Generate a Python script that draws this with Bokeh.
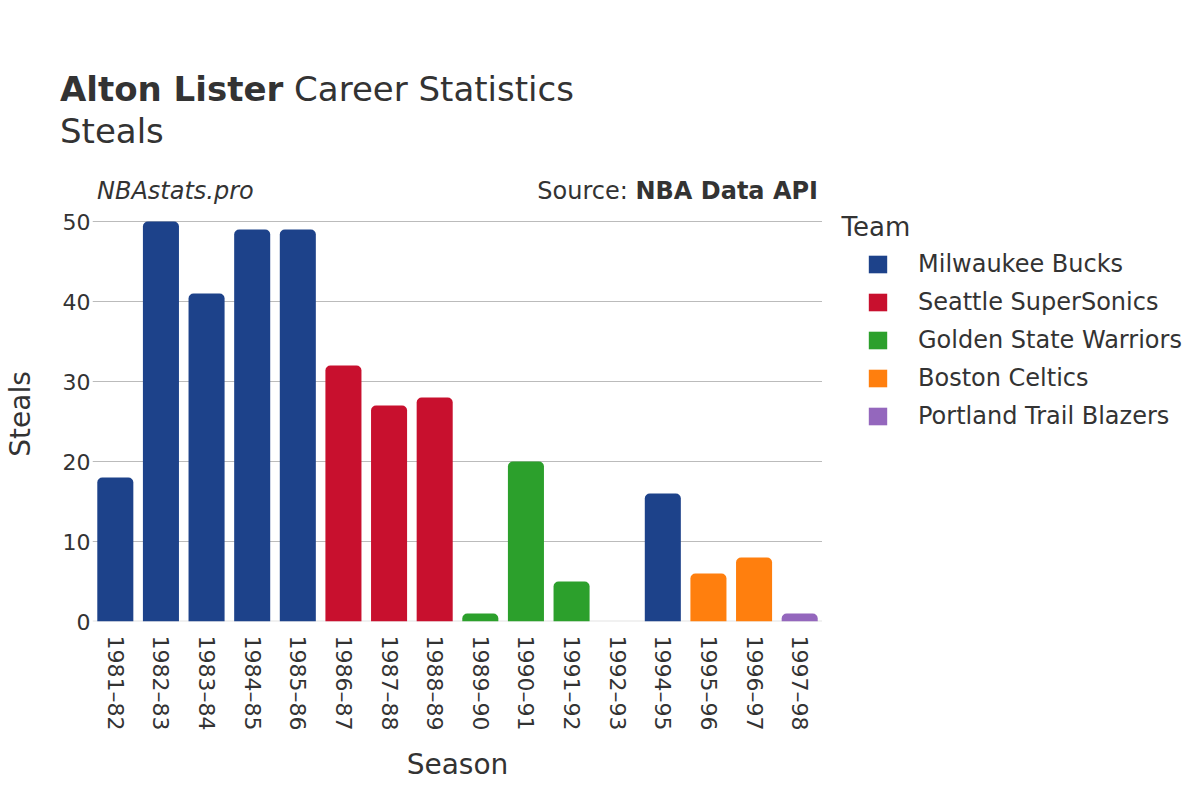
from bokeh.plotting import figure
from bokeh.models import (ColumnDataSource, Legend, LegendItem, FactorRange,
                          Range1d, SingleIntervalTicker, Div, Label)
from bokeh.layouts import column, row
from bokeh.embed import file_html
from bokeh.resources import INLINE
import math

seasons = ["1981–82", "1982–83", "1983–84", "1984–85", "1985–86", "1986–87",
           "1987–88", "1988–89", "1989–90", "1990–91", "1991–92", "1992–93",
           "1994–95", "1995–96", "1996–97", "1997–98"]
steals = [18, 50, 41, 49, 49, 32, 27, 28, 1, 20, 5, 0, 16, 6, 8, 1]
teams = ["Milwaukee Bucks", "Milwaukee Bucks", "Milwaukee Bucks", "Milwaukee Bucks",
         "Milwaukee Bucks", "Seattle SuperSonics", "Seattle SuperSonics",
         "Seattle SuperSonics", "Golden State Warriors", "Golden State Warriors",
         "Golden State Warriors", "Golden State Warriors", "Milwaukee Bucks",
         "Boston Celtics", "Boston Celtics", "Portland Trail Blazers"]
team_order = ["Milwaukee Bucks", "Seattle SuperSonics", "Golden State Warriors",
              "Boston Celtics", "Portland Trail Blazers"]
team_colors = ["#1D428A", "#C8102E", "#2CA02C", "#FF7F0E", "#9467BD"]

player = "Alton Lister"
title_rest = "Career Statistics"
stat_name = "Steals"
site = "NBAstats.pro"
source_name = "NBA Data API"
legend_title = "Team"

FONT = "DejaVu Sans"
TXT = "#333333"
HEAD_H = 206
W = 1184
H = 784
MAIN_W = 822

header_html = f"""
<div style="position:relative;width:{W}px;height:{HEAD_H}px;font-family:'{FONT}';color:{TXT};white-space:nowrap;">
  <span style="position:absolute;left:60px;top:72px;font-size:34px;line-height:34px;"><b>{player}</b> {title_rest}</span>
  <span style="position:absolute;left:60px;top:114px;font-size:34px;line-height:34px;">{stat_name}</span>
  <span style="position:absolute;left:97px;top:179px;font-size:24px;line-height:24px;font-style:italic;">{site}</span>
  <span style="position:absolute;right:{W - 818}px;top:179px;font-size:24px;line-height:24px;">Source: <b>{source_name}</b></span>
</div>
"""
header = Div(text=header_html, width=W, height=HEAD_H, margin=0)

x_range = FactorRange(*seasons, range_padding=0)
y_range = Range1d(0, 51.875)

p = figure(x_range=x_range, y_range=y_range,
           width=MAIN_W, height=H - HEAD_H, output_backend="svg", toolbar_location=None,
           min_border_left=92, min_border_right=0, min_border_top=0,
           min_border_bottom=163, background_fill_color="white",
           border_fill_color="white", outline_line_color=None, margin=0)

p.hspan(y=[0], line_color="#E3E3E3", line_width=2)

sources = {}
for t, c in zip(team_order, team_colors):
    xs = [s for s, tt in zip(seasons, teams) if tt == t]
    ys = [v for v, tt in zip(steals, teams) if tt == t]
    sources[t] = ColumnDataSource(dict(x=xs, top=ys))
    p.vbar(x="x", top="top", bottom=0, width=0.79, source=sources[t], fill_color=c,
           line_color=None, border_radius=(5, 5, 0, 0))

p.ygrid.grid_line_color = "#BBBBBB"
p.ygrid.grid_line_width = 1
p.xgrid.grid_line_color = None
p.yaxis.ticker = SingleIntervalTicker(interval=10)

for ax in (p.xaxis[0], p.yaxis[0]):
    ax.axis_line_color = None
    ax.major_tick_line_color = None
    ax.minor_tick_line_color = None
    ax.major_label_text_font = FONT
    ax.major_label_text_color = TXT
    ax.major_label_text_font_size = "22px"
    ax.axis_label_text_font = FONT
    ax.axis_label_text_color = TXT
    ax.axis_label_text_font_size = "28px"
    ax.axis_label_text_font_style = "normal"

p.yaxis.axis_label = stat_name
p.yaxis.major_label_standoff = -4
p.yaxis.axis_label_standoff = 23
p.xaxis.axis_label = "Season"
p.xaxis.major_label_orientation = -math.pi / 2
p.xaxis.major_label_standoff = 8
p.xaxis.axis_label_standoff = 15

# legend panel: a second, axis-less figure holding the team legend
lg = figure(width=W - MAIN_W, height=H - HEAD_H, output_backend="svg", toolbar_location=None,
            x_axis_type=None, y_axis_type=None, x_range=x_range, y_range=y_range,
            min_border_left=0, min_border_right=0, min_border_top=0, min_border_bottom=0,
            outline_line_color=None, background_fill_color="white",
            border_fill_color="white", margin=0)
lg.xgrid.visible = False
lg.ygrid.visible = False
items = []
for t, c in zip(team_order, team_colors):
    r = lg.vbar(x="x", top="top", bottom=0, width=0.79, source=sources[t], fill_color=c,
                line_color=None, visible=False)
    items.append(LegendItem(label=t, renderers=[r]))

legend = Legend(items=items, location="top_left",
                label_text_font=FONT, label_text_font_size="24px", label_text_color=TXT,
                glyph_width=23, glyph_height=22, label_standoff=29, spacing=10,
                label_height=28, padding=0, margin=44, border_line_color=None,
                background_fill_alpha=0, inactive_fill_alpha=0)
lg.add_layout(legend, "center")

lg.add_layout(Label(x=19, y=395, x_units="screen", y_units="screen", text=legend_title,
                    text_font=FONT, text_font_size="26px", text_color=TXT,
                    text_baseline="alphabetic"))

layout = column(header, row(p, lg, spacing=0, margin=0), spacing=0, margin=0)
open("out.html", "w").write(file_html(layout, INLINE))
